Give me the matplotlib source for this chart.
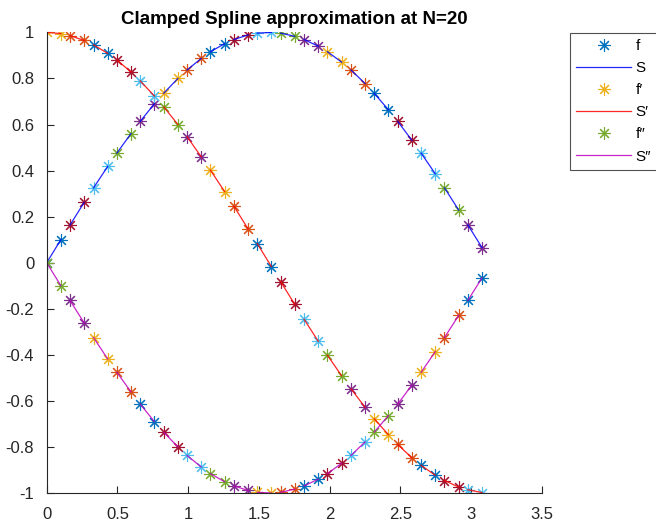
import matplotlib
matplotlib.use("Agg")
import matplotlib.pyplot as plt

plt.rcParams['font.family'] = ['Liberation Sans', 'DejaVu Sans']
plt.rcParams['axes.unicode_minus'] = False

# sample points: each interval [x_k, x_k + 0.1], 19 intervals
x_pts = [0.000, 0.100, 0.165, 0.265, 0.331, 0.431, 0.496, 0.596, 0.661, 0.761,
         0.827, 0.927, 0.992, 1.092, 1.157, 1.257, 1.323, 1.423, 1.488, 1.588,
         1.653, 1.753, 1.819, 1.919, 1.984, 2.084, 2.150, 2.250, 2.315, 2.415,
         2.480, 2.580, 2.646, 2.746, 2.811, 2.911, 2.976, 3.076]

f_vals = [0.000, 0.100, 0.164, 0.262, 0.325, 0.418, 0.476, 0.561, 0.614, 0.690,
          0.736, 0.800, 0.837, 0.887, 0.916, 0.951, 0.969, 0.989, 0.997, 1.000,
          0.997, 0.983, 0.969, 0.940, 0.916, 0.871, 0.837, 0.778, 0.735, 0.664,
          0.614, 0.532, 0.476, 0.386, 0.325, 0.229, 0.164, 0.066]

df_vals = [1.000, 0.995, 0.986, 0.965, 0.946, 0.909, 0.880, 0.828, 0.789, 0.724,
           0.677, 0.600, 0.547, 0.460, 0.402, 0.309, 0.245, 0.147, 0.083, -0.017,
           -0.082, -0.181, -0.246, -0.341, -0.402, -0.491, -0.547, -0.628, -0.678, -0.747,
           -0.789, -0.847, -0.880, -0.923, -0.946, -0.974, -0.986, -0.998]

d2f_vals = [-0.000, -0.100, -0.164, -0.262, -0.325, -0.418, -0.476, -0.561, -0.614, -0.690,
            -0.736, -0.800, -0.837, -0.887, -0.916, -0.951, -0.969, -0.989, -0.997, -1.000,
            -0.997, -0.983, -0.969, -0.940, -0.916, -0.871, -0.837, -0.778, -0.735, -0.664,
            -0.614, -0.532, -0.476, -0.386, -0.325, -0.229, -0.164, -0.066]

labels = ['f', 'S', 'f\u2032', 'S\u2032', 'f\u2033', 'S\u2033']

# matlab default colour order
cycle = [(0, 0.447, 0.741), (0.85, 0.325, 0.098), (0.929, 0.694, 0.125),
         (0.494, 0.184, 0.556), (0.466, 0.674, 0.188), (0.301, 0.745, 0.933),
         (0.635, 0.078, 0.184)]

fig = plt.figure(figsize=(6.56, 5.27), dpi=100)
ax = fig.add_axes([0.0712, 0.0645, 0.755, 0.874])

ast = (8, 2, 0)
mk = dict(marker=ast, markersize=9, markeredgewidth=0.8, linestyle='none')
handles = []
n_int = len(x_pts) // 2
for k in range(n_int):
    xs = x_pts[2 * k:2 * k + 2]
    h1, = ax.plot(xs, f_vals[2 * k:2 * k + 2], color=cycle[(6 * k) % 7], **mk)
    h2, = ax.plot(xs, f_vals[2 * k:2 * k + 2], color='b', lw=0.9, alpha=0.85)
    h3, = ax.plot(xs, df_vals[2 * k:2 * k + 2], color=cycle[(6 * k + 2) % 7], **mk)
    h4, = ax.plot(xs, df_vals[2 * k:2 * k + 2], color='r', lw=0.9, alpha=0.85)
    h5, = ax.plot(xs, d2f_vals[2 * k:2 * k + 2], color=cycle[(6 * k + 4) % 7], **mk)
    h6, = ax.plot(xs, d2f_vals[2 * k:2 * k + 2], color='m', lw=0.9, alpha=0.85)
    if k == 0:
        handles = [h1, h2, h3, h4, h5, h6]

ax.set_xlim(0, 3.5)
ax.set_ylim(-1, 1)
ax.set_xticks([0, 0.5, 1, 1.5, 2, 2.5, 3, 3.5])
ax.set_xticklabels(['0', '0.5', '1', '1.5', '2', '2.5', '3', '3.5'])
ax.set_yticks([-1, -0.8, -0.6, -0.4, -0.2, 0, 0.2, 0.4, 0.6, 0.8, 1])
ax.set_yticklabels(['-1', '-0.8', '-0.6', '-0.4', '-0.2', '0', '0.2', '0.4', '0.6', '0.8', '1'])

dark = (0.15, 0.15, 0.15)
for s in ['top', 'right']:
    ax.spines[s].set_visible(False)
for s in ['left', 'bottom']:
    ax.spines[s].set_color(dark)
    ax.spines[s].set_linewidth(0.8)
ax.tick_params(direction='in', length=5, width=0.8, colors=dark, labelsize=12)
ax.tick_params(axis='x', pad=10)
ax.tick_params(axis='y', pad=9)
for lab in ax.get_xticklabels() + ax.get_yticklabels():
    lab.set_color(dark)

ax.set_title('Clamped Spline approximation at N=20', fontsize=13.5, fontweight='bold', pad=6)

leg = fig.legend(handles, labels, loc='upper left', bbox_to_anchor=(570 / 656, 1 - 33 / 527),
                 fontsize=11, frameon=True, fancybox=False, handlelength=3.6,
                 handletextpad=0.3, labelspacing=0.53, borderpad=0.4, borderaxespad=0)
leg.get_frame().set_edgecolor(dark)
leg.get_frame().set_linewidth(0.8)

plt.savefig('out.png', dpi=100)
